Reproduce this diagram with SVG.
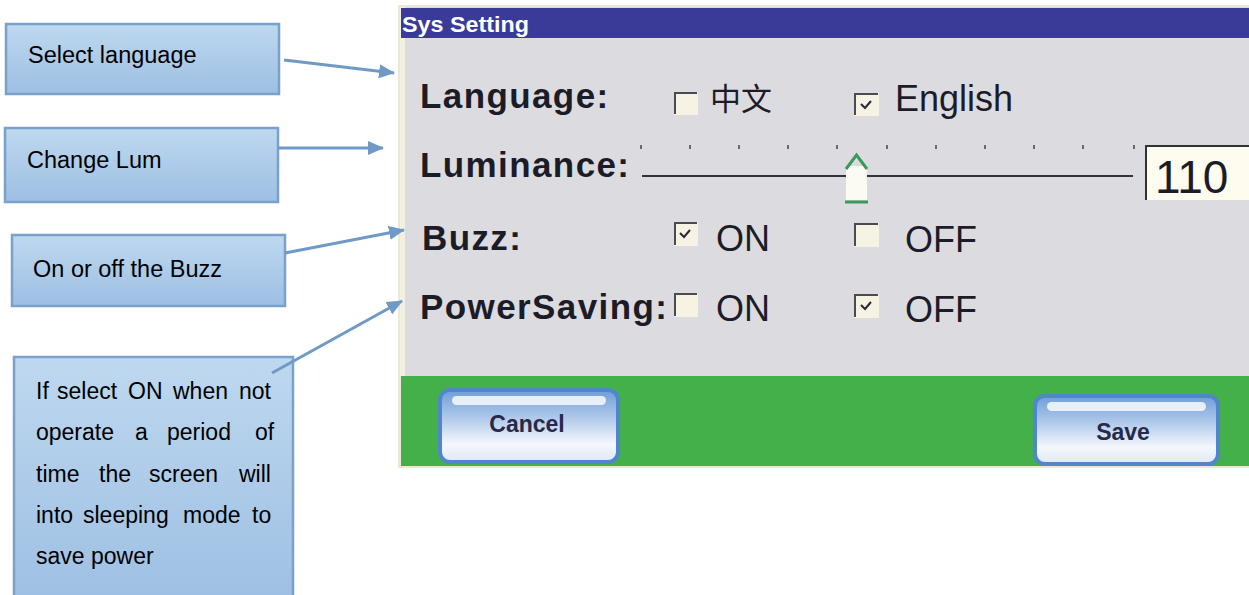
<svg xmlns="http://www.w3.org/2000/svg" width="1249" height="595" viewBox="0 0 1249 595">
<defs>
<linearGradient id="boxg" x1="0" y1="0" x2="0" y2="1">
<stop offset="0" stop-color="#bed8ef"/>
<stop offset="1" stop-color="#9dbfe3"/>
</linearGradient>
<linearGradient id="btng" x1="0" y1="0" x2="0" y2="1">
<stop offset="0" stop-color="#6f9ed9"/>
<stop offset="0.35" stop-color="#a9c4e8"/>
<stop offset="0.75" stop-color="#f4f7fc"/>
<stop offset="1" stop-color="#dfe8f5"/>
</linearGradient>
<linearGradient id="edge" x1="0" y1="0" x2="1" y2="0">
<stop offset="0" stop-color="#f4f0e0"/>
<stop offset="1" stop-color="#dcdce0"/>
</linearGradient>
<marker id="arr" viewBox="0 0 16 14" refX="15" refY="7" markerWidth="16" markerHeight="14" markerUnits="userSpaceOnUse" orient="auto">
<path d="M0,0 L16,7 L0,14 Z" fill="#6f9ac6"/>
</marker>
<style>
.note{fill:url(#boxg);stroke:#7aa1cb;stroke-width:2.5}
.nt{font-family:"Liberation Sans",Arial,sans-serif;font-size:23.5px;fill:#000}
.nt2{font-family:"Liberation Sans",Arial,sans-serif;font-size:23px;fill:#000}
.conn{stroke:#6f9ac6;stroke-width:3;fill:none;marker-end:url(#arr)}
.lbl{font-family:"Liberation Sans",Arial,sans-serif;font-weight:bold;font-size:35px;fill:#1c1c28;letter-spacing:1.4px}
.opt{font-family:"Liberation Sans",Arial,sans-serif;font-size:36px;fill:#1c1c28}
.cb{fill:#f6f2e4}
.cbe{stroke:#4a4a50;stroke-width:2;fill:none}
.chk{stroke:#2a2a30;stroke-width:2;fill:none}
.tick{stroke:#444;stroke-width:1.5}
.btn{fill:url(#btng);stroke:#4f86cc;stroke-width:4}
.bt{font-family:"Liberation Sans",Arial,sans-serif;font-weight:bold;font-size:23px;fill:#262a48;text-anchor:middle}
</style>
</defs>

<g id="screen">
<rect x="398" y="5" width="851" height="463" fill="#ece8d8"/>
<rect x="400" y="7" width="849" height="370" fill="url(#edge)"/>
<rect x="405" y="7" width="844" height="370" fill="#dcdce0"/>
<rect x="401" y="8" width="848" height="30" fill="#3a3a98"/>
<text x="402" y="32" font-family="'Liberation Sans',Arial,sans-serif" font-weight="bold" font-size="22" fill="#ffffff" textLength="127" lengthAdjust="spacingAndGlyphs">Sys Setting</text>
<rect x="401" y="376" width="848" height="90" fill="#44b04a"/>

<g id="row-language">
<text class="lbl" x="420" y="108">Language:</text>
<rect class="cb" x="674" y="92" width="24" height="23"/>
<path class="cbe" d="M675,114 V93 H697"/>
<text x="710" y="110" font-family="'Noto Sans CJK SC',sans-serif" font-size="31" fill="#1c1c28">中文</text>
<rect class="cb" x="854" y="93" width="25" height="23"/>
<path class="cbe" d="M855,115 V94 H878"/>
<path class="chk" d="M861,104 L865,108 L871,101"/>
<text class="opt" x="895" y="111">English</text>
</g>

<g id="row-luminance">
<text class="lbl" x="420" y="177">Luminance:</text>
<g class="tick">
<line x1="641" y1="145" x2="641" y2="149"/><line x1="690" y1="145" x2="690" y2="149"/><line x1="739" y1="145" x2="739" y2="149"/><line x1="788" y1="145" x2="788" y2="149"/><line x1="837" y1="145" x2="837" y2="149"/><line x1="887" y1="145" x2="887" y2="149"/><line x1="936" y1="145" x2="936" y2="149"/><line x1="985" y1="145" x2="985" y2="149"/><line x1="1034" y1="145" x2="1034" y2="149"/><line x1="1083" y1="145" x2="1083" y2="149"/><line x1="1134" y1="145" x2="1134" y2="149"/>
</g>
<line x1="642" y1="176" x2="1133" y2="176" stroke="#333" stroke-width="2"/>
<rect x="846" y="166" width="21" height="34" fill="#fbfbf4"/>
<path d="M846,169 L856.5,155 L867,169" fill="none" stroke="#3a9a5a" stroke-width="3"/>
<line x1="845" y1="202" x2="868" y2="202" stroke="#3a9a5a" stroke-width="3"/>
<rect x="1145" y="146" width="104" height="54" fill="#fdfcee"/>
<path d="M1146,200 V146 H1249" fill="none" stroke="#333" stroke-width="2"/>
<text x="1155" y="193" font-family="'Liberation Sans',Arial,sans-serif" font-size="46" fill="#1c1c28">110</text>
</g>

<g id="row-buzz">
<text class="lbl" x="422" y="250">Buzz:</text>
<rect class="cb" x="674" y="222" width="24" height="24"/>
<path class="cbe" d="M675,245 V223 H697"/>
<path class="chk" d="M680,233 L684,237 L690,230"/>
<text class="opt" x="716" y="251">ON</text>
<rect class="cb" x="854" y="223" width="25" height="24"/>
<path class="cbe" d="M855,246 V224 H878"/>
<text class="opt" x="905" y="252">OFF</text>
</g>

<g id="row-powersaving">
<text class="lbl" x="420" y="319">PowerSaving:</text>
<rect class="cb" x="674" y="293" width="24" height="24"/>
<path class="cbe" d="M675,316 V294 H697"/>
<text class="opt" x="716" y="321">ON</text>
<rect class="cb" x="854" y="294" width="25" height="24"/>
<path class="cbe" d="M855,317 V295 H878"/>
<path class="chk" d="M861,305 L865,309 L871,302"/>
<text class="opt" x="905" y="322">OFF</text>
</g>

<g id="btn-cancel">
<rect class="btn" x="440" y="390" width="178" height="72" rx="10"/>
<rect x="452" y="396" width="154" height="9" rx="4.5" fill="#f2f6fc" opacity="0.9"/>
<text class="bt" x="527" y="432">Cancel</text>
</g>
<g id="btn-save">
<rect class="btn" x="1035" y="396" width="183" height="68" rx="10"/>
<rect x="1047" y="402" width="159" height="9" rx="4.5" fill="#f2f6fc" opacity="0.9"/>
<text class="bt" x="1123" y="440">Save</text>
</g>
</g>

<g id="note-language">
<rect class="note" x="6" y="24" width="273" height="70"/>
<text class="nt" x="28" y="63">Select language</text>
</g>
<g id="note-lum">
<rect class="note" x="5" y="128" width="273" height="74"/>
<text class="nt" x="27" y="168">Change Lum</text>
</g>
<g id="note-buzz">
<rect class="note" x="12" y="235" width="273" height="71"/>
<text class="nt" x="33" y="277">On or off the Buzz</text>
</g>
<g id="note-power">
<rect class="note" x="14" y="357" width="279" height="250"/>
<text class="nt2" y="399"><tspan x="36">If</tspan> <tspan x="57">select</tspan> <tspan x="128">ON</tspan> <tspan x="173">when</tspan> <tspan x="239">not</tspan></text>
<text class="nt2" y="440"><tspan x="36">operate</tspan> <tspan x="135">a</tspan> <tspan x="167">period</tspan> <tspan x="255">of</tspan></text>
<text class="nt2" y="482"><tspan x="36">time</tspan> <tspan x="99">the</tspan> <tspan x="149">screen</tspan> <tspan x="239">will</tspan></text>
<text class="nt2" y="523"><tspan x="36">into</tspan> <tspan x="83">sleeping</tspan> <tspan x="183">mode</tspan> <tspan x="252">to</tspan></text>
<text class="nt2" x="36" y="564">save power</text>
</g>

<g id="connectors">
<line class="conn" x1="284" y1="60" x2="394" y2="73"/>
<line class="conn" x1="278" y1="148" x2="383" y2="148"/>
<line class="conn" x1="285" y1="253" x2="404" y2="230"/>
<line class="conn" x1="272" y1="373" x2="402" y2="301"/>
</g>
</svg>
